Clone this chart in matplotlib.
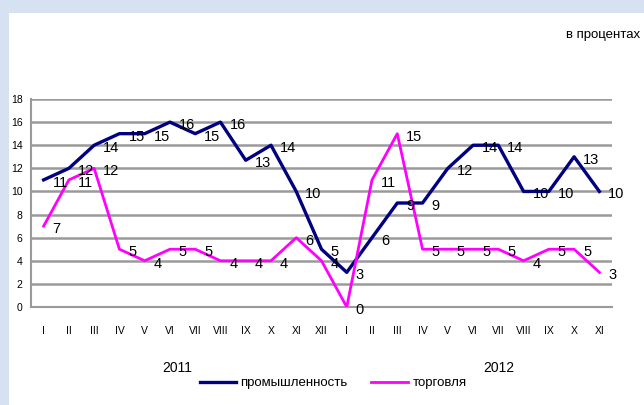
import matplotlib.pyplot as plt
from matplotlib.patches import Rectangle

# ---- data ----
months = ["I", "II", "III", "IV", "V", "VI", "VII", "VIII", "IX", "X", "XI", "XII",
          "I", "II", "III", "IV", "V", "VI", "VII", "VIII", "IX", "X", "XI"]
industry = [11, 12, 14, 15, 15, 16, 15, 16, 12.7, 14, 10, 5,
            3, 6, 9, 9, 12, 14, 14, 10, 10, 13, 10]
industry_labels = [11, 12, 14, 15, 15, 16, 15, 16, 13, 14, 10, 5,
                   3, 6, 9, 9, 12, 14, 14, 10, 10, 13, 10]
trade = [7, 11, 12, 5, 4, 5, 5, 4, 4, 4, 6, 4,
         0, 11, 15, 5, 5, 5, 5, 4, 5, 5, 3]
trade_labels = [7, 11, 12, 5, 4, 5, 5, 4, 4, 4, 6, 4,
                0, 11, 15, 5, 5, 5, 5, 4, 5, 5, 3]
years = ["2011", "2012"]
y_ticks = list(range(0, 19, 2))

plt.rcParams['font.family'] = ['Liberation Sans', 'DejaVu Sans']

fig = plt.figure(figsize=(6.44, 4.05), dpi=100)
fig.patch.set_facecolor('#d6e1f1')
# white panel
fig.patches.append(Rectangle((9 / 644, 0), 1, 1 - 13 / 405, transform=fig.transFigure,
                             facecolor='white', edgecolor='none', zorder=-5))

ax = fig.add_axes([31 / 644, 98 / 405, 581 / 644, 208 / 405])
ax.set_facecolor('none')
x = list(range(len(months)))

ax.plot(x, industry, color='#000080', lw=2.4, zorder=3)
ax.plot(x, trade, color='#ff00ff', lw=2.0, zorder=3)

for xi, yi, lab in zip(x, industry, industry_labels):
    ax.annotate(str(lab), (xi, yi), xytext=(9, -3), textcoords='offset pixels',
                ha='left', va='center', fontsize=10.5, color='black', zorder=4)
for xi, yi, lab in zip(x, trade, trade_labels):
    ax.annotate(str(lab), (xi, yi), xytext=(9, -3), textcoords='offset pixels',
                ha='left', va='center', fontsize=10.5, color='black', zorder=4)

ax.set_xlim(-0.5, len(months) - 0.5)
ax.set_ylim(0, 18)
ax.set_yticks(y_ticks)
ax.set_yticklabels([str(v) for v in y_ticks], fontsize=7.5)
ax.set_xticks(x)
ax.set_xticklabels(months, fontsize=7.5)
ax.tick_params(length=0, pad=6)
ax.tick_params(axis='x', pad=14)
ax.grid(axis='y', color='#9a9a9a', lw=1.8, zorder=1)
for s in ['top', 'right']:
    ax.spines[s].set_visible(False)
for s in ['left', 'bottom']:
    ax.spines[s].set_color('#9a9a9a')
    ax.spines[s].set_linewidth(1.5)

# year labels
ax.text(5.3, -5.3, years[0], ha='center', va='center', fontsize=10)
ax.text(18.0, -5.3, years[1], ha='center', va='center', fontsize=10)

# legend
leg = fig.legend(['промышленность', 'торговля'], loc='center',
                 bbox_to_anchor=(333 / 644, 1 - 383 / 405), ncol=2, frameon=False,
                 fontsize=9.5, handlelength=2.8, handletextpad=0.3, columnspacing=1.8)

fig.text(640 / 644, 1 - 35 / 405, 'в процентах', ha='right', va='center', fontsize=9.5)

fig.savefig('out.png', dpi=100, facecolor=fig.get_facecolor())
